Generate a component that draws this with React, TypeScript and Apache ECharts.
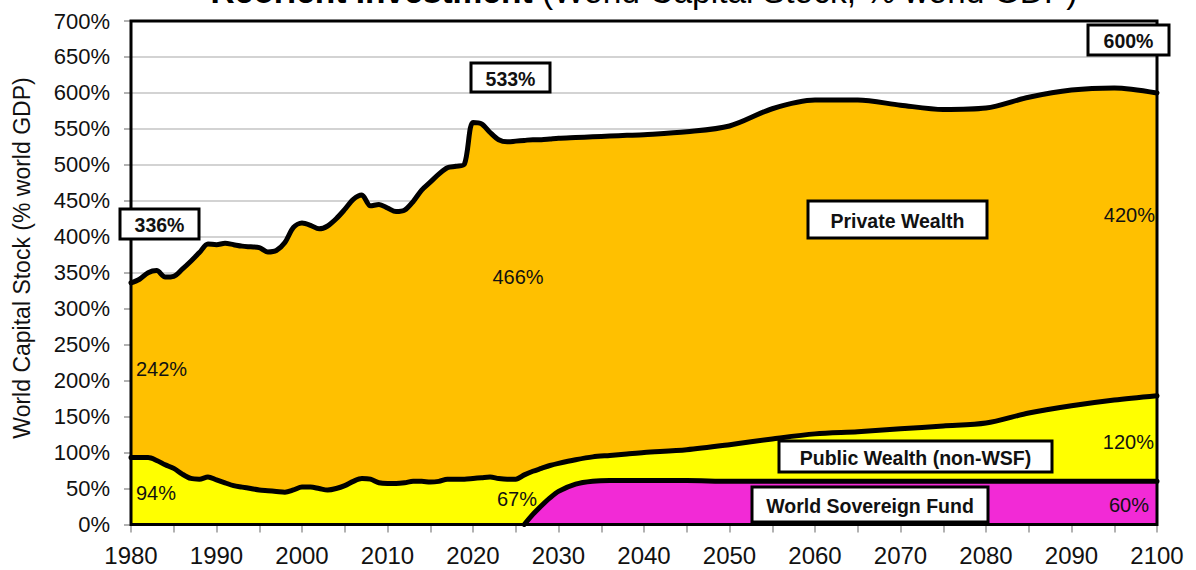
import React, { useEffect, useRef } from "react";
import * as echarts from "echarts";

// ---- data (values in % of world GDP) ----
const years = [
  1980, 1981, 1982, 1983, 1984, 1985, 1986, 1987, 1988, 1989,
  1990, 1991, 1992, 1993, 1994, 1995, 1996, 1997, 1998, 1999,
  2000, 2001, 2002, 2003, 2004, 2005, 2006, 2007, 2008, 2009,
  2010, 2011, 2012, 2013, 2014, 2015, 2016, 2017, 2018, 2019,
  2020, 2021, 2022, 2023, 2024, 2025,
  2026, 2027, 2028, 2029, 2030, 2032, 2034, 2036, 2038, 2040,
  2045, 2050, 2055, 2060, 2065, 2070, 2075, 2080, 2085, 2090, 2095, 2100,
];

// Top of the stack: total world capital stock
const totalCapital = [
  336, 341, 350, 353, 344, 345, 355, 366, 378, 390,
  389, 391, 389, 387, 386, 385, 379, 381, 392, 413,
  419, 416, 411, 415, 425, 438, 452, 458, 443, 445,
  440, 435, 437, 449, 465, 476, 487, 496, 498, 501,
  559, 557, 545, 535, 532, 533,
  534, 535, 535, 536, 537, 538, 539, 540, 541, 542,
  546, 554, 578, 590, 590, 583, 577, 579, 594, 604, 607, 600,
];

// Public wealth (non-WSF) + World Sovereign Fund
const publicInclFund = [
  93, 93, 93, 89, 83, 78, 70, 64, 63, 66,
  62, 58, 54, 52, 50, 48, 47, 46, 45, 48,
  52, 52, 50, 48, 50, 54, 60, 64, 63, 58,
  57, 57, 58, 60, 60, 59, 60, 63, 63, 63,
  64, 65, 66, 64, 63, 63,
  69, 74, 78, 82, 85, 90, 94, 96, 98, 100,
  104, 111, 119, 126, 129, 133, 137, 141, 155, 165, 173, 179,
];

// World Sovereign Fund
const sovereignFund = [
  0, 0, 0, 0, 0, 0, 0, 0, 0, 0,
  0, 0, 0, 0, 0, 0, 0, 0, 0, 0,
  0, 0, 0, 0, 0, 0, 0, 0, 0, 0,
  0, 0, 0, 0, 0, 0, 0, 0, 0, 0,
  0, 0, 0, 0, 0, 0,
  0, 14, 26, 37, 46, 56, 60, 61, 61, 61,
  61, 60, 60, 60, 60, 60, 60, 60, 60, 60, 60, 60,
];

const fundStartYear = 2026;

const FONT = "'Liberation Sans', Arial, Helvetica, sans-serif";

export default function App() {
  const ref = useRef<HTMLDivElement | null>(null);

  useEffect(() => {
    if (!ref.current) return;
    const chart = echarts.init(ref.current, null, { renderer: "svg" });

    const pts = (arr: number[]) => years.map((y, i) => [y, arr[i]]);
    const fundPts = pts(sovereignFund).filter((p) => p[0] >= fundStartYear);

    const lineCommon = {
      type: "line" as const,
      showSymbol: false,
      smooth: 0.3,
      lineStyle: { color: "#000", width: 5, join: "round", cap: "round" },
      emphasis: { disabled: true },
      silent: true,
    };

    const graphics: any[] = [];
    let uid = 0;

    const box = (text: string, x: number, y: number, w: number, h: number) => {
      uid += 1;
      graphics.push({
        id: "boxrect" + uid,
        type: "rect",
        z: 200,
        shape: { x, y, width: w, height: h },
        style: { fill: "#fff", stroke: "#000", lineWidth: 3 },
      });
      graphics.push({
        id: "boxtext" + uid,
        type: "text",
        z: 201,
        x: x + w / 2,
        y: y + h / 2 + 1,
        style: {
          text,
          fill: "#111",
          fontFamily: FONT,
          fontSize: 19.5,
          fontWeight: "bold",
          align: "center",
          verticalAlign: "middle",
        },
      });
    };

    const plain = (text: string, x: number, y: number, align: string) => {
      uid += 1;
      graphics.push({
        id: "label" + uid,
        type: "text",
        z: 200,
        x,
        y,
        style: {
          text,
          fill: "#111",
          fontFamily: FONT,
          fontSize: 20,
          align,
          verticalAlign: "middle",
        },
      });
    };

    graphics.push({
      id: "title",
      type: "text",
      x: 644,
      y: -9,
      z: 200,
      style: {
        text: "{b|Reorient Investment\u00a0}{n|(World Capital Stock, % world GDP)}",
        align: "center",
        verticalAlign: "middle",
        fill: "#000",
        rich: {
          b: { fontSize: 33.5, fontWeight: "bold", fontFamily: FONT, fill: "#000" },
          n: { fontSize: 33.5, fontFamily: FONT, fill: "#000" },
        },
      },
    });
    graphics.push({
      id: "yname",
      type: "text",
      x: 22,
      y: 258,
      rotation: Math.PI / 2,
      z: 200,
      style: {
        text: "World Capital Stock (% world GDP)",
        fill: "#111",
        fontFamily: FONT,
        fontSize: 23,
        align: "center",
        verticalAlign: "middle",
      },
    });
    graphics.push({
      id: "frame",
      type: "rect",
      z: 150,
      shape: { x: 131, y: 21, width: 1026, height: 503.5 },
      style: { fill: "none", stroke: "#000", lineWidth: 3 },
    });

    plain("242%", 136, 369, "left");
    plain("94%", 136, 493, "left");
    plain("466%", 518, 277, "center");
    plain("67%", 517, 499, "center");
    plain("420%", 1155, 215, "right");
    plain("120%", 1154, 442, "right");
    plain("60%", 1149, 505, "right");
    box("336%", 120, 209, 79, 30);
    box("533%", 471, 63, 79, 29);
    box("600%", 1088, 25, 81, 30);
    box("Private Wealth", 808, 201, 179, 37);
    box("Public Wealth (non-WSF)", 779, 441, 273, 31);
    box("World Sovereign Fund", 752, 487, 236, 35);

    chart.setOption({
      animation: false,
      backgroundColor: "#fff",
      textStyle: { fontFamily: FONT },
      grid: { left: 131, right: 39, top: 21, bottom: 45.5, containLabel: false },
      xAxis: {
        type: "value",
        min: 1980,
        max: 2100,
        interval: 5,
        axisLine: { show: false },
        axisTick: { show: true, length: 8, lineStyle: { color: "#999", width: 1.5 } },
        splitLine: { show: false },
        axisLabel: {
          fontSize: 24,
          color: "#111",
          margin: 19,
          fontFamily: FONT,
          formatter: (v: number) => (v % 10 === 0 ? String(v) : ""),
        },
      },
      yAxis: {
        type: "value",
        min: 0,
        max: 700,
        interval: 50,
        axisLine: { show: false },
        axisTick: { show: true, length: 7, lineStyle: { color: "#999", width: 1.5 } },
        splitLine: { show: true, lineStyle: { color: "#c4c4c4", width: 1.5 } },
        axisLabel: {
          fontSize: 22,
          color: "#111",
          margin: 21,
          fontFamily: FONT,
          formatter: "{value}%",
        },
      },
      series: [
        {
          ...lineCommon,
          name: "Private Wealth",
          data: pts(totalCapital),
          areaStyle: { color: "#FFC000", opacity: 1 },
          z: 2,
        },
        {
          ...lineCommon,
          name: "Public Wealth (non-WSF)",
          data: pts(publicInclFund),
          areaStyle: { color: "#FFFF00", opacity: 1 },
          z: 3,
        },
        {
          ...lineCommon,
          name: "World Sovereign Fund",
          data: fundPts,
          areaStyle: { color: "#F22AD6", opacity: 1 },
          z: 4,
        },
      ],
      graphic: { elements: graphics },
    });

    return () => chart.dispose();
  }, []);

  return (
    <div
      ref={ref}
      style={{ position: "absolute", left: 0, top: 0, width: 1196, height: 570 }}
    />
  );
}
